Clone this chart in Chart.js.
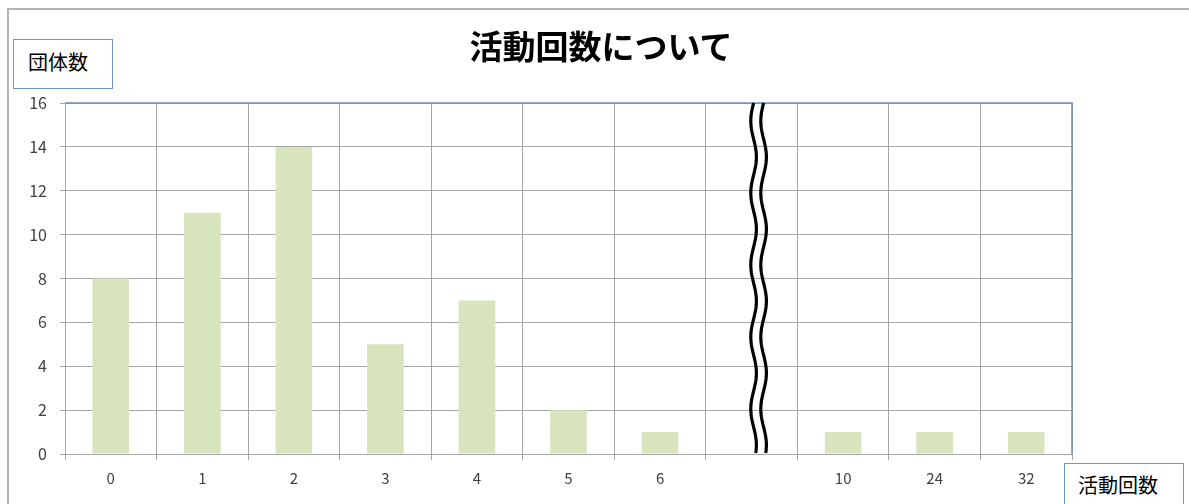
<!DOCTYPE html>
<html>
<head>
<meta charset="utf-8">
<script src="https://cdn.jsdelivr.net/npm/chart.js@4/dist/chart.umd.min.js"></script>
<style>
  body { margin: 0; background: #fff; }
  #wrap { position: relative; width: 1189px; height: 504px; overflow: hidden; }
  canvas { position: absolute; left: 0; top: 0; }
  .axbox {
    position: absolute; box-sizing: border-box; border: 1.5px solid #6f94c8;
    background: #fff; font-family: "Noto Sans CJK JP", sans-serif; color: #000;
  }
  #title {
    position: absolute; left: 401px; top: 24px; width: 400px; text-align: center;
    font-family: "Noto Sans CJK JP", sans-serif; font-weight: bold; font-size: 33px; line-height: 42px;
  }
</style>
</head>
<body>
<div id="wrap">
  <canvas id="myChart" width="1189" height="504"></canvas>
  <div id="title">活動回数について</div>
  <div class="axbox" style="left:13px;top:39px;width:100px;height:50px;font-size:20px;line-height:44px;padding-left:14px;">団体数</div>
  <div class="axbox" style="left:1064px;top:463px;width:120px;height:50px;font-size:20px;line-height:42px;padding-left:13px;">活動回数</div>
</div>
<script>
// chart values
var categories = ['0', '1', '2', '3', '4', '5', '6', '', '10', '24', '32'];
var groupCounts = [8, 11, 14, 5, 7, 2, 1, null, 1, 1, 1];
var yTicks = [0, 2, 4, 6, 8, 10, 12, 14, 16];
var breakIndex = 7;

// outer frame, blue top/right border and the axis break
var decorations = {
  id: 'decorations',
  beforeDraw: function(chart) {
    var ctx = chart.ctx;
    ctx.save();
    ctx.strokeStyle = '#b4b4b4';
    ctx.lineWidth = 2;
    ctx.beginPath();
    ctx.moveTo(8, 504);
    ctx.lineTo(8, 9);
    ctx.lineTo(1189, 9);
    ctx.stroke();
    ctx.restore();
  },
  afterDraw: function(chart) {
    var ctx = chart.ctx;
    var a = chart.chartArea;
    ctx.save();
    ctx.strokeStyle = '#6f8fbf';
    ctx.lineWidth = 1.5;
    ctx.beginPath();
    ctx.moveTo(a.left, a.top);
    ctx.lineTo(a.right, a.top);
    ctx.lineTo(a.right, a.bottom);
    ctx.stroke();

    // wavy break lines
    var cx = chart.scales.x.getPixelForValue(breakIndex) + 7;
    ctx.strokeStyle = '#000';
    ctx.lineWidth = 3.2;
    [-5, 5].forEach(function(dx) {
      ctx.beginPath();
      for (var y = a.top; y <= a.bottom; y += 2) {
        var x = cx + dx + 2.8 * Math.sin((y - a.top) / 72 * 2 * Math.PI + Math.PI);
        if (y === a.top) ctx.moveTo(x, y); else ctx.lineTo(x, y);
      }
      ctx.stroke();
    });
    ctx.restore();
  }
};

var ctx = document.getElementById('myChart').getContext('2d');
var chart = new Chart(ctx, {
  type: 'bar',
  data: {
    labels: categories,
    datasets: [{
      label: '団体数',
      backgroundColor: '#d7e4bd',
      borderWidth: 0,
      data: groupCounts,
      barPercentage: 0.4,
      categoryPercentage: 1
    }]
  },
  options: {
    responsive: false,
    animation: false,
    layout: { padding: { left: 0, right: 117, top: 103, bottom: 0 } },
    plugins: {
      legend: { display: false },
      tooltip: { enabled: false },
      title: { display: false }
    },
    scales: {
      x: {
        grid: { color: '#a6a6a6', lineWidth: 1, tickLength: 6, offset: true },
        border: { color: '#a6a6a6' },
        ticks: {
          color: '#404040', padding: 9,
          font: { family: '"Noto Sans CJK JP", sans-serif', size: 15 }
        },
        afterFit: function(s) { s.height = 50; }
      },
      y: {
        min: 0, max: 16,
        afterBuildTicks: function(s) { s.ticks = yTicks.map(function(v) { return { value: v }; }); },
        grid: { color: '#a6a6a6', lineWidth: 1, tickLength: 5 },
        border: { color: '#a6a6a6' },
        ticks: {
          color: '#404040', padding: 13,
          font: { family: '"Noto Sans CJK JP", sans-serif', size: 16 }
        },
        afterFit: function(s) { s.width = 65; }
      }
    }
  },
  plugins: [decorations]
});
</script>
</body>
</html>
